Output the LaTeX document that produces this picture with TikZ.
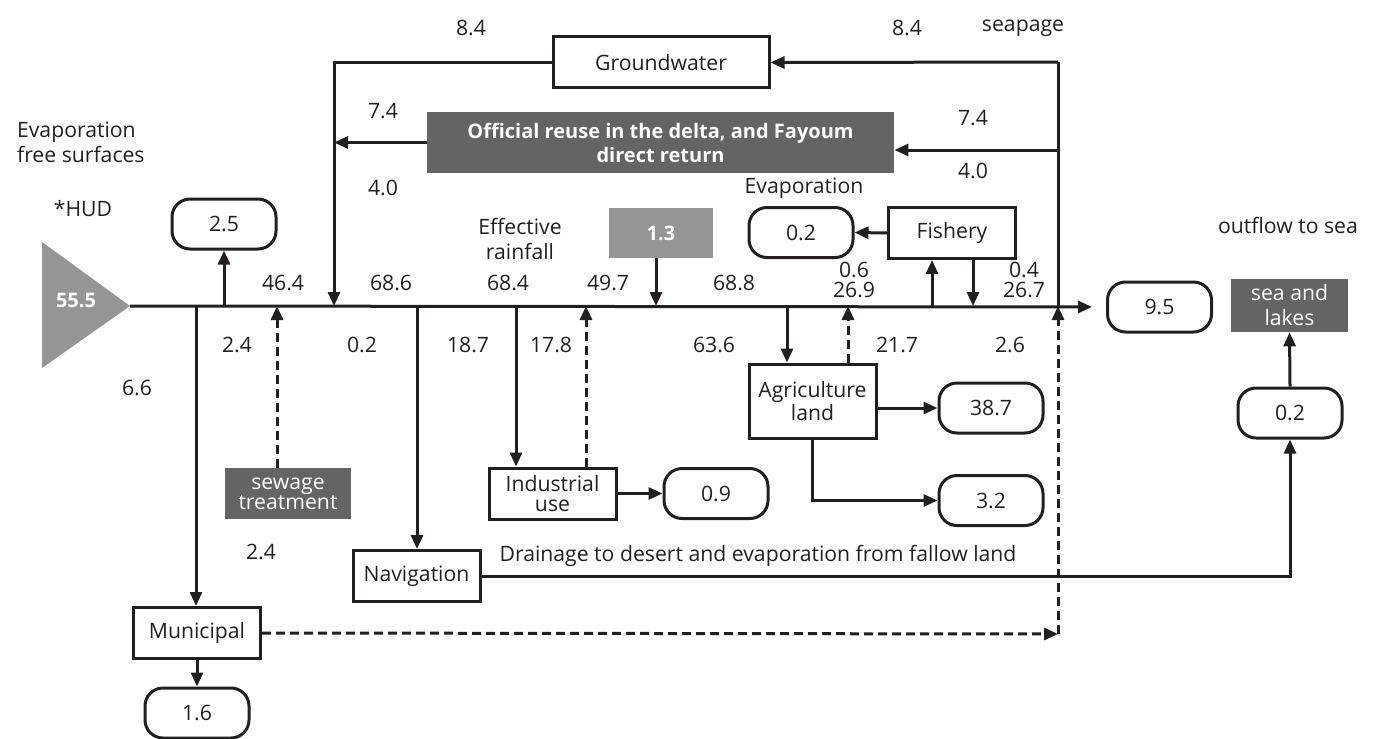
\documentclass[tikz,border=0pt]{standalone}
\usepackage{fontspec}
\setmainfont{Open Sans}
\usetikzlibrary{arrows.meta}
\definecolor{ink}{HTML}{231F20}
\definecolor{darkbox}{HTML}{646464}
\definecolor{lightbox}{HTML}{959595}
\def\tightfont{\fontsize{10.6}{10}\selectfont}

\tikzset{
  plain/.style={draw=ink, line width=1.5pt},
  flow/.style={plain, -{Triangle[length=7pt,width=6pt]}},
  reuse/.style={flow, dash pattern=on 4.5pt off 2.5pt},
  box/.style={draw=ink, line width=1.5pt, minimum width=63.5pt, minimum height=25.5pt, inner sep=1pt, align=center, font=\tightfont},
  loss/.style={draw=ink, line width=1.5pt, rounded corners=9pt, minimum width=52pt, minimum height=25pt},
  shade/.style={fill=darkbox, text=white, align=center, inner sep=1pt},
}

\begin{document}
\begin{tikzpicture}[x=0.5pt, y=-0.5pt, font=\fontsize{10.6}{12.5}\selectfont, text=ink]
		%%%%% START %%%%%
		\useasboundingbox (0,0) rectangle (1374,738);
		
		% high dam inflow
		\fill[lightbox] (42,242) -- (130,306) -- (42,368) -- cycle;
		\node[text=white, font=\bfseries] (hud) at (76,300) {55.5};
		\coordinate (hudtip) at (130,306);
		
		% boxes
		\node[loss] (l25) at (224,224) {2.5};
		\node[box] (mun) at (197,633) {Municipal};
		\node[loss] (l16) at (197,713) {1.6};
		\node[shade, minimum width=63pt, minimum height=25.5pt, font=\tightfont] (sew) at (288,493.5) {sewage\\treatment};
		\node[box] (nav) at (416.5,576) {Navigation};
		\node[box] (ind) at (552.5,493.5) {Industrial\\use};
		\node[loss] (l09) at (716,493.5) {0.9};
		\node[box, minimum height=37pt] (agr) at (812.5,401) {Agriculture\\land};
		\node[loss] (l387) at (991,408) {38.7};
		\node[loss] (l32) at (991,500.5) {3.2};
		\node[box] (fish) at (952,233) {Fishery};
		\node[loss] (l02e) at (801,232.5) {0.2};
		\node[fill=lightbox, minimum width=52pt, minimum height=25pt, text=white, font=\bfseries] (rain) at (661,233) {1.3};
		\node[box, minimum width=108pt] (gw) at (661,62.5) {Groundwater};
		\node[shade, minimum width=233.5pt, minimum height=30.5pt, font=\bfseries] (reuse) at (660.5,142.5) {Official reuse in the delta, and Fayoum\\direct return};
		\node[loss] (out) at (1159.5,307) {9.5};
		\node[shade, minimum width=58.5pt, minimum height=26.5pt] (sea) at (1289.5,305.5) {sea and\\lakes};
		\node[loss] (l02s) at (1290,413) {0.2};
		
		% points on the river
		\coordinate (jmun) at (196,306);
		\coordinate (jl25) at (224,306);
		\coordinate (jsew) at (277,306);
		\coordinate (jgw) at (334,306);
		\coordinate (jnav) at (417,306);
		\coordinate (jind) at (516,306);
		\coordinate (jindr) at (586,306);
		\coordinate (jrain) at (656,306);
		\coordinate (jagr) at (787,306);
		\coordinate (jagrr) at (848,306);
		\coordinate (jfishu) at (932,306);
		\coordinate (jfishd) at (973,306);
		\coordinate (jseep) at (1058,306);
		\coordinate (seep) at (1058,62);
		\coordinate (rin) at (1058,150);
		\coordinate (ret) at (1058,634);
		
		% river
		\draw[flow, shorten >=7pt] (hudtip) -- (out.west);
		
		% flows
		\draw[flow] (jl25) -- (l25.south);
		\draw[flow] (jmun) -- (jmun |- mun.north);
		\draw[flow] (mun.south) -- (l16.north);
		\draw[reuse] (jsew |- sew.north) -- (jsew);
		\draw[plain] (jseep) -- (seep);
		\draw[flow] (seep) -- (gw.east);
		\draw[flow] (gw.west) -| (jgw);
		\draw[flow] (rin) -- (rin -| reuse.east);
		\draw[flow] (reuse.west) -- (reuse.west -| jgw);
		\draw[flow] (jnav) -- (jnav |- nav.north);
		\draw[flow] (nav.east) -| (l02s.south);
		\draw[flow] (l02s.north) -- (sea.south);
		\draw[flow] (jind) -- (jind |- ind.north);
		\draw[reuse] (jindr |- ind.north) -- (jindr);
		\draw[flow] (ind.east) -- (l09.west);
		\draw[flow] (rain.south -| jrain) -- (jrain);
		\draw[flow] (jagr) -- (jagr |- agr.north);
		\draw[reuse] (jagrr |- agr.north) -- (jagrr);
		\draw[flow] (agr.east |- l387) -- (l387.west);
		\draw[flow] (agr.south) |- (l32.west);
		\draw[flow] (jfishu) -- (jfishu |- fish.south);
		\draw[flow] (jfishd |- fish.south) -- (jfishd);
		\draw[flow] (fish.west) -- (l02e.east);
		\draw[reuse] (mun.east) -- (ret);
		\draw[reuse] (ret) -- (jseep);
		
		% labels
		\node[anchor=west, align=left] (evfree) at (10,142.5) {Evaporation\\free surfaces};
		\node (hudlbl) at (83,209) {*HUD};
		\node (v464) at (283,283) {46.4};
		\node (v686) at (391,283) {68.6};
		\node (v684) at (508,283) {68.4};
		\node (v497) at (608,283) {49.7};
		\node (v688) at (734,283) {68.8};
		\node[align=center, font=\tightfont] (v269) at (854,280) {0.6\\26.9};
		\node[align=center, font=\tightfont] (v267) at (1024,280) {0.4\\26.7};
		\node (v24a) at (237,345) {2.4};
		\node (v02) at (362,345) {0.2};
		\node (v187) at (468,345) {18.7};
		\node (v178) at (551,345) {17.8};
		\node (v636) at (714,345) {63.6};
		\node (v217) at (897,345) {21.7};
		\node (v26) at (1010,345) {2.6};
		\node (v66) at (137,388) {6.6};
		\node (v24b) at (261,552) {2.4};
		\node (v84a) at (471,28) {8.4};
		\node (v84b) at (907,28) {8.4};
		\node (seapage) at (1023,28) {seapage};
		\node (v74a) at (383,111) {7.4};
		\node (v40a) at (383,188) {4.0};
		\node (v74b) at (973,118) {7.4};
		\node (v40b) at (973,171) {4.0};
		\node[align=center] (effrain) at (520,238.5) {Effective\\rainfall};
		\node (evfish) at (804,188) {Evaporation};
		\node (outsea) at (1288,225) {outflow to sea};
		\node (drainlbl) at (758,556) {Drainage to desert and evaporation from fallow land};
		%%%%% END %%%%%
	\end{tikzpicture}
\end{document}
